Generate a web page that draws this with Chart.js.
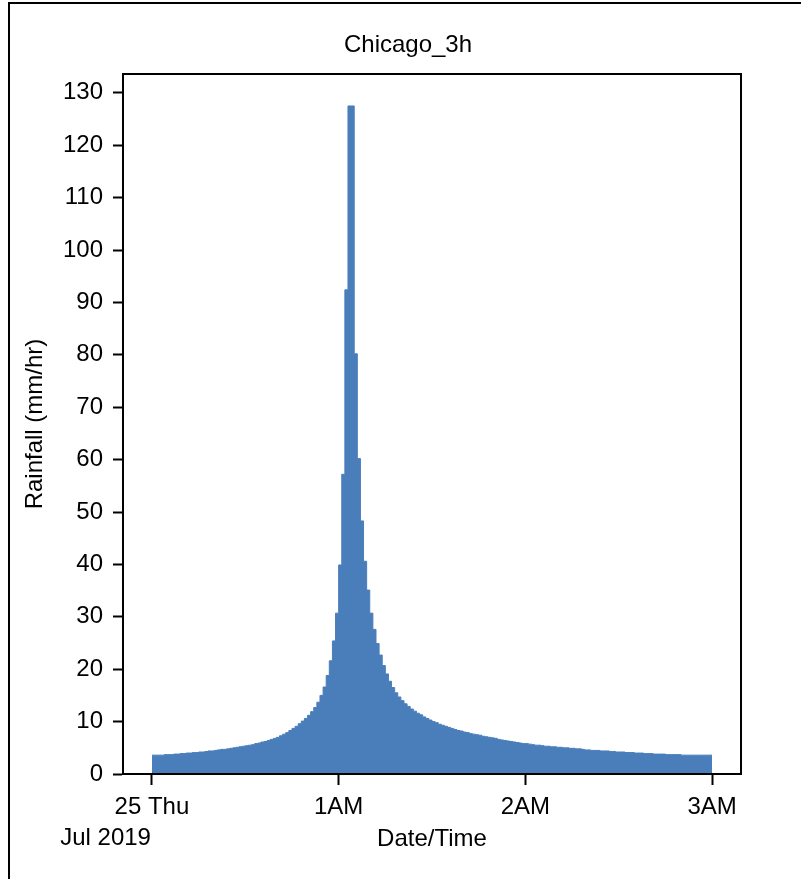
<!DOCTYPE html>
<html>
<head>
<meta charset="utf-8">
<title>Chicago_3h</title>
<script src="https://cdn.jsdelivr.net/npm/chart.js@4.4.1/dist/chart.umd.min.js"></script>
<style>
  html, body { margin: 0; padding: 0; background: #fff; }
  #wrap { position: relative; width: 801px; height: 879px; }
</style>
</head>
<body>
<div id="wrap"><canvas id="rain" width="801" height="879"></canvas></div>
<script>
const chartTitle = 'Chicago_3h';
const xAxisTitle = 'Date/Time';
const yAxisTitle = 'Rainfall (mm/hr)';
const dateLabel = 'Jul 2019';

// minutes after 00:00, 25 Jul 2019, and the label shown at each one
const timeTickMinutes = [0, 60, 120, 180];
const timeTickLabels = ['25 Thu', '1AM', '2AM', '3AM'];

const rainTicks = [0, 10, 20, 30, 40, 50, 60, 70, 80, 90, 100, 110, 120, 130];

// rainfall intensity (mm/hr), one value per minute starting at 00:00
const rainfall = [
  3.6, 3.6, 3.6, 3.6, 3.7, 3.7, 3.7, 3.8, 3.8, 3.9,
  3.9, 4.0, 4.0, 4.1, 4.1, 4.2, 4.2, 4.3, 4.4, 4.4,
  4.5, 4.6, 4.7, 4.7, 4.8, 4.9, 5.0, 5.1, 5.2, 5.3,
  5.4, 5.5, 5.6, 5.8, 5.9, 6.1, 6.2, 6.4, 6.6, 6.8,
  7.0, 7.3, 7.6, 7.9, 8.3, 8.7, 9.1, 9.6, 10.1, 10.6,
  11.2, 11.9, 12.7, 13.7, 15.0, 16.6, 18.8, 21.6, 25.4, 30.7,
  39.9, 57.2, 92.4, 127.5, 127.5, 80.2, 60.2, 48.3, 40.6, 35.1,
  30.7, 27.6, 24.9, 22.7, 20.7, 19.1, 17.7, 16.5, 15.5, 14.7,
  14.0, 13.4, 12.9, 12.4, 12.0, 11.6, 11.3, 10.9, 10.6, 10.3,
  10.0, 9.8, 9.5, 9.3, 9.1, 8.9, 8.7, 8.5, 8.3, 8.2,
  8.0, 7.9, 7.7, 7.6, 7.5, 7.4, 7.2, 7.1, 7.0, 6.9,
  6.8, 6.6, 6.5, 6.4, 6.3, 6.2, 6.1, 6.0, 5.9, 5.8,
  5.8, 5.7, 5.6, 5.5, 5.5, 5.4, 5.3, 5.3, 5.2, 5.2,
  5.1, 5.1, 5.0, 5.0, 4.9, 4.9, 4.8, 4.8, 4.7, 4.6,
  4.6, 4.5, 4.5, 4.5, 4.4, 4.4, 4.4, 4.3, 4.3, 4.2,
  4.2, 4.2, 4.1, 4.1, 4.1, 4.0, 4.0, 4.0, 3.9, 3.9,
  3.9, 3.8, 3.8, 3.8, 3.8, 3.7, 3.7, 3.7, 3.7, 3.7,
  3.6, 3.6, 3.6, 3.6, 3.6, 3.6, 3.6, 3.6, 3.6, 3.6
];

// each minute's intensity holds until the next minute; the last one closes at 180
const stepPoints = rainfall.map((v, i) => ({ x: i, y: v }));
stepPoints.push({ x: rainfall.length, y: rainfall[rainfall.length - 1] });

const FONT_FAMILY = "'Liberation Sans', Arial, Helvetica, sans-serif";
const textFont = { family: FONT_FAMILY, size: 24 };
const INK = '#000';
const BAR_BLUE = '#4A7EBB';

// outer frame, closed plot box, title and the date under the first time label
const decorations = {
  id: 'decorations',
  afterDraw(chart) {
    const ctx = chart.ctx;
    const a = chart.chartArea;
    const xs = chart.scales.x;
    ctx.save();
    ctx.strokeStyle = INK;
    ctx.lineWidth = 2;
    ctx.strokeRect(a.left, a.top, a.right - a.left, a.bottom - a.top);

    ctx.beginPath();
    ctx.moveTo(9, chart.height);
    ctx.lineTo(9, 3);
    ctx.lineTo(chart.width, 3);
    ctx.stroke();

    ctx.fillStyle = INK;
    ctx.font = `${textFont.size}px ${FONT_FAMILY}`;
    ctx.textBaseline = 'middle';
    ctx.textAlign = 'center';
    ctx.fillText(chartTitle, 408, 45);

    ctx.textAlign = 'right';
    ctx.fillText(dateLabel, xs.getPixelForValue(timeTickMinutes[0]) - 1, 838);
    ctx.restore();
  }
};

new Chart(document.getElementById('rain'), {
  type: 'line',
  data: {
    datasets: [{
      data: stepPoints,
      stepped: true,
      fill: 'origin',
      backgroundColor: BAR_BLUE,
      borderColor: BAR_BLUE,
      borderWidth: 1,
      pointRadius: 0,
      pointHoverRadius: 0
    }]
  },
  options: {
    responsive: false,
    animation: false,
    events: [],
    layout: { padding: { top: 74, right: 60, bottom: 0, left: 0 } },
    plugins: {
      legend: { display: false },
      tooltip: { enabled: false },
      title: { display: false }
    },
    scales: {
      x: {
        type: 'linear',
        min: -9.3,
        max: 189.3,
        afterBuildTicks: s => { s.ticks = timeTickMinutes.map(v => ({ value: v })); },
        afterFit: s => { s.height = 105; },
        ticks: {
          autoSkip: false,
          maxRotation: 0,
          color: INK,
          font: textFont,
          padding: 8,
          callback: v => timeTickLabels[timeTickMinutes.indexOf(v)]
        },
        grid: {
          display: true,
          drawOnChartArea: false,
          drawTicks: true,
          tickLength: 11,
          tickColor: INK,
          tickWidth: 2
        },
        border: { display: true, color: INK, width: 2 },
        title: {
          display: true,
          text: xAxisTitle,
          color: INK,
          font: textFont,
          padding: { top: 0, bottom: 25 }
        }
      },
      y: {
        type: 'linear',
        min: 0,
        max: 133.6,
        afterBuildTicks: s => { s.ticks = rainTicks.map(v => ({ value: v })); },
        afterFit: s => { s.width = 123; },
        ticks: {
          color: INK,
          font: textFont,
          padding: 10,
          callback: v => String(v)
        },
        grid: {
          display: true,
          drawOnChartArea: false,
          drawTicks: true,
          tickLength: 10,
          tickColor: INK,
          tickWidth: 2
        },
        border: { display: true, color: INK, width: 2 },
        title: {
          display: true,
          text: yAxisTitle,
          color: INK,
          font: textFont,
          padding: { top: 21, bottom: 0 }
        }
      }
    }
  },
  plugins: [decorations]
});
</script>
</body>
</html>
